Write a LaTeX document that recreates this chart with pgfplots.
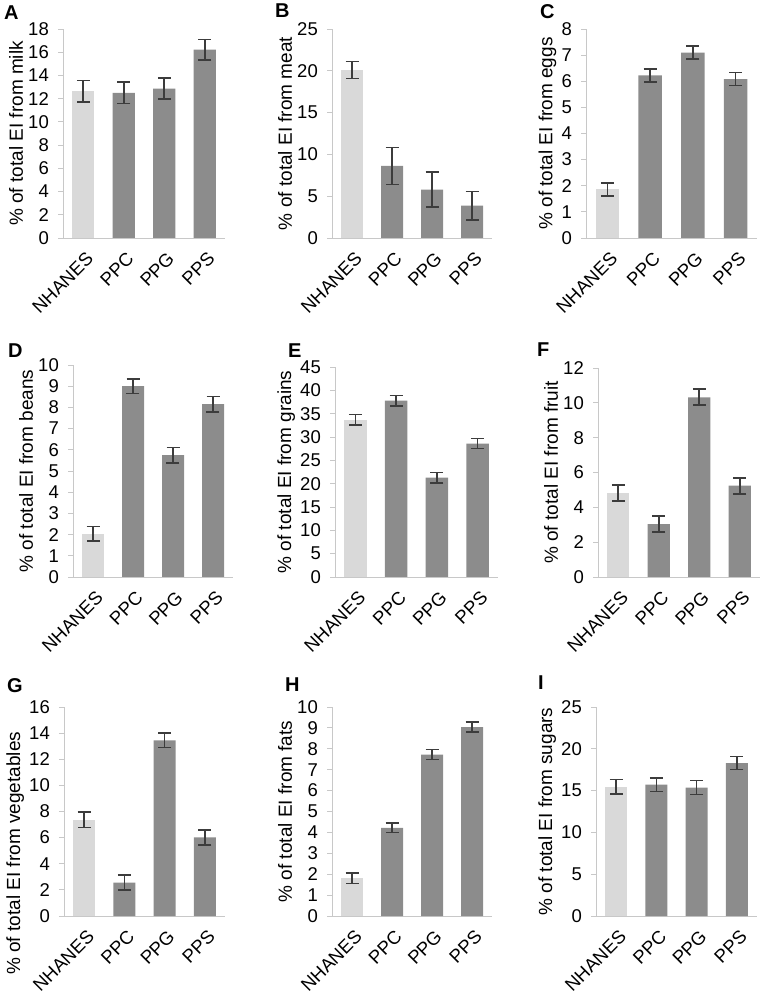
\documentclass[border=0pt]{standalone}
\usepackage{fontspec}
\setmainfont{Liberation Sans}
\usepackage{pgfplots}
\pgfplotsset{compat=1.18}
\definecolor{lightbar}{RGB}{217,217,217}
\definecolor{darkbar}{RGB}{140,140,140}
\definecolor{errc}{RGB}{60,60,60}
\definecolor{axc}{RGB}{200,200,200}
\pgfplotsset{
  panel/.style={
    scale only axis, anchor=south west,
    xmin=-0.5, xmax=3.5, ymin=0,
    axis x line=bottom, axis y line=left,
    axis line style={-, draw=axc, line width=0.9pt},
    xtick={0,1,2,3}, xticklabels={NHANES,PPC,PPG,PPS},
    x tick style={draw=none},
    y tick style={draw=axc, line width=0.9pt},
    tick align=outside, major tick length=5pt,
    /pgf/number format/assume math mode=true,
    ticklabel style={font=\fontsize{18.5}{21}\selectfont, text=black},
    xticklabel style={yshift=-5pt, xshift=2pt, rotate=45, anchor=north east, inner sep=2pt},
    yticklabel style={inner sep=3pt, xshift=-6pt},
    label style={font=\fontsize{19}{21}\selectfont},
    ylabel style={inner sep=2pt},
  },
  nh/.style={ybar, bar width=0.55, fill=lightbar, draw=none,
    error bars/y dir=both, error bars/y explicit,
    error bars/error bar style={line width=1.6pt, draw=errc},
    error bars/error mark options={rotate=90, mark size=6.5pt, line width=1.6pt, draw=errc}},
  pp/.style={nh, fill=darkbar},
}
\begin{document}
\begin{tikzpicture}
\path[use as bounding box] (0,0) rectangle (766pt,996pt);
\tikzset{letter/.style={anchor=base west, inner sep=0pt, font=\fontsize{20}{21}\selectfont\bfseries}}
% Row 1
\begin{axis}[panel, at={(63pt,758pt)}, width=162pt, height=209pt, ymax=18, ytick distance=2, ylabel={\% of total EI from milk}]
\addplot[nh] coordinates {(0,12.64) +- (0,0.92)};
\addplot[pp] coordinates {(1,12.5) +- (0,0.92) (2,12.87) +- (0,0.9) (3,16.22) +- (0,0.89)};
\end{axis}
\begin{axis}[panel, at={(332pt,758pt)}, width=160pt, height=209pt, ymax=25, ytick distance=5, ylabel={\% of total EI from meat}]
\addplot[nh] coordinates {(0,20.1) +- (0,1.0)};
\addplot[pp] coordinates {(1,8.62) +- (0,2.22) (2,5.78) +- (0,2.08) (3,3.86) +- (0,1.72)};
\end{axis}
\begin{axis}[panel, at={(586pt,758pt)}, width=171pt, height=209pt, ymax=8, ytick distance=1, ylabel={\% of total EI from eggs}]
\addplot[nh] coordinates {(0,1.86) +- (0,0.25)};
\addplot[pp] coordinates {(1,6.22) +- (0,0.25) (2,7.1) +- (0,0.25) (3,6.08) +- (0,0.25)};
\end{axis}
% Row 2
\begin{axis}[panel, at={(73pt,419pt)}, width=160pt, height=212pt, ymax=10, ytick distance=1, ylabel={\% of total EI from beans}]
\addplot[nh] coordinates {(0,2.04) +- (0,0.35)};
\addplot[pp] coordinates {(1,9.0) +- (0,0.35) (2,5.75) +- (0,0.36) (3,8.15) +- (0,0.36)};
\end{axis}
\begin{axis}[panel, at={(335pt,419pt)}, width=163pt, height=210pt, ymax=45, ytick distance=5, ylabel={\% of total EI from grains}]
\addplot[nh] coordinates {(0,33.7) +- (0,1.1)};
\addplot[pp] coordinates {(1,37.8) +- (0,1.1) (2,21.3) +- (0,1.1) (3,28.6) +- (0,1.1)};
\end{axis}
\begin{axis}[panel, at={(598pt,419pt)}, width=162pt, height=209pt, ymax=12, ytick distance=2, ylabel={\% of total EI from fruit}]
\addplot[nh] coordinates {(0,4.82) +- (0,0.46)};
\addplot[pp] coordinates {(1,3.04) +- (0,0.47) (2,10.32) +- (0,0.46) (3,5.24) +- (0,0.46)};
\end{axis}
% Row 3
\begin{axis}[panel, at={(64pt,80pt)}, width=161pt, height=209pt, ymax=16, ytick distance=2, ylabel={\% of total EI from vegetables}, ylabel style={at={(ticklabel cs:0.30)}}]
\addplot[nh] coordinates {(0,7.36) +- (0,0.59)};
\addplot[pp] coordinates {(1,2.56) +- (0,0.58) (2,13.45) +- (0,0.56) (3,6.01) +- (0,0.56)};
\end{axis}
\begin{axis}[panel, at={(332pt,80pt)}, width=160pt, height=209pt, ymax=10, ytick distance=1, ylabel={\% of total EI from fats}]
\addplot[nh] coordinates {(0,1.8) +- (0,0.25)};
\addplot[pp] coordinates {(1,4.22) +- (0,0.23) (2,7.72) +- (0,0.24) (3,9.04) +- (0,0.23)};
\end{axis}
\begin{axis}[panel, at={(596pt,80pt)}, width=161pt, height=209pt, ymax=25, ytick distance=5, ylabel={\% of total EI from sugars}]
\addplot[nh] coordinates {(0,15.45) +- (0,0.86)};
\addplot[pp] coordinates {(1,15.72) +- (0,0.82) (2,15.37) +- (0,0.86) (3,18.3) +- (0,0.78)};
\end{axis}
% Panel letters
\node[letter] at (4pt,976pt) {A};
\node[letter] at (275pt,978pt) {B};
\node[letter] at (540pt,977pt) {C};
\node[letter] at (8pt,638pt) {D};
\node[letter] at (288pt,638pt) {E};
\node[letter] at (537pt,639pt) {F};
\node[letter] at (7pt,303pt) {G};
\node[letter] at (285pt,304pt) {H};
\node[letter] at (538pt,306pt) {I};
\end{tikzpicture}
\end{document}
